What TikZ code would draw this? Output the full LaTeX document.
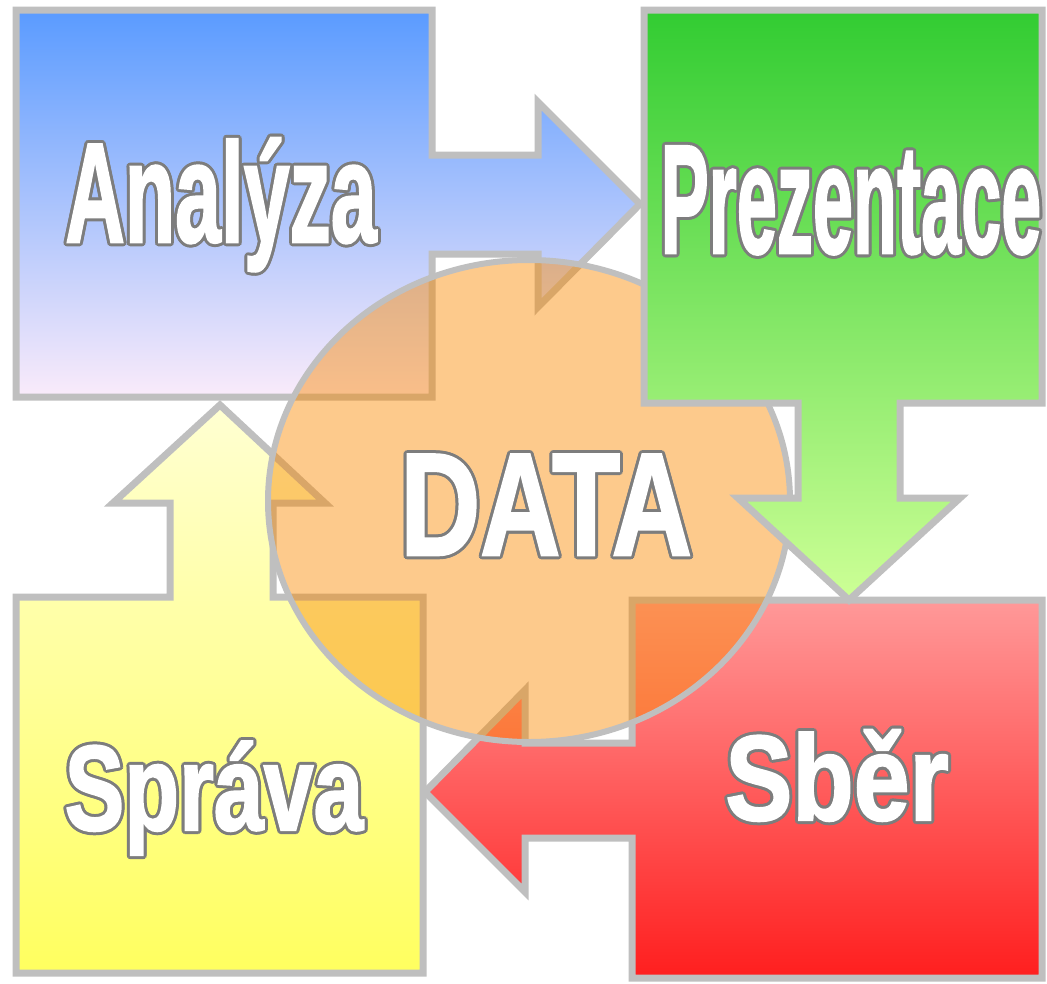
\documentclass[tikz,border=0pt]{standalone}
\usepackage{fontspec}
\usepackage{graphicx}
\newfontface\lblfont{Liberation Sans Bold}[FakeBold=1.8]
\definecolor{bordergray}{RGB}{191,191,191}
\definecolor{olgray}{RGB}{125,125,125}
\definecolor{btop}{RGB}{90,155,255}
\definecolor{bmid}{RGB}{122,186,255}
\definecolor{bbot}{RGB}{250,235,250}
\definecolor{gtop}{RGB}{50,204,50}
\definecolor{gmid}{RGB}{135,228,100}
\definecolor{gbot}{RGB}{205,255,150}
\definecolor{rtop}{RGB}{255,153,153}
\definecolor{rbot}{RGB}{255,30,30}
\definecolor{ytop}{RGB}{255,255,210}
\definecolor{ybot}{RGB}{255,255,95}
\definecolor{ellfill}{RGB}{250,137,0}
\tikzset{
  shapeline/.style={draw=bordergray, line width=7pt, line join=miter},
  lblsty/.style={inner sep=0pt, anchor=base},
}
\newcommand{\olbl}[6]{%
  \foreach \a in {0,30,...,359}{
    \node[lblsty, text=olgray, font={\lblfont\fontsize{#4}{#4}\selectfont}]
      at ([shift={(\a:3pt)}]#2,#3) {\scalebox{#5}[1]{#6}};
  }
  \node[lblsty, text=white, font={\lblfont\fontsize{#4}{#4}\selectfont}]
    (#1) at (#2,#3) {\scalebox{#5}[1]{#6}};
}
\begin{document}
\begin{tikzpicture}[x=1pt,y=-1pt]
\useasboundingbox (0,0) rectangle (1047,983);
% Analyza (blue)
\path[shapeline, top color=btop, middle color=bmid, bottom color=bbot]
  (16,10) -- (432,10) -- (432,155) -- (538,155) -- (538,102) -- (640,204)
  -- (538,307) -- (538,254) -- (432,254) -- (432,397) -- (16,397) -- cycle;
% Sber (red)
\path[shapeline, top color=rtop, bottom color=rbot]
  (632,600) -- (1042,600) -- (1042,978) -- (632,978) -- (632,838) -- (525,838)
  -- (525,892) -- (425,792) -- (525,690) -- (525,743) -- (632,743) -- cycle;
% Sprava (yellow)
\path[shapeline, top color=ytop, bottom color=ybot]
  (16,597) -- (170,597) -- (170,503) -- (113,503) -- (220,405) -- (325,503)
  -- (273,503) -- (273,597) -- (423,597) -- (423,973) -- (16,973) -- cycle;
% DATA ellipse
\path[draw=bordergray, line width=6pt, fill=ellfill, fill opacity=0.45]
  (529,501) ellipse [x radius=261, y radius=241];
% Prezentace (green), drawn over the ellipse
\path[shapeline, top color=gtop, middle color=gmid, bottom color=gbot]
  (644,10) -- (1042,10) -- (1042,403) -- (900,403) -- (900,498) -- (960,498)
  -- (849,600) -- (738,498) -- (798,498) -- (798,403) -- (644,403) -- cycle;
% labels
\olbl{analyza}{221}{242}{142}{0.58}{Analýza}
\olbl{prezentace}{851}{253}{155}{0.465}{Prezentace}
\olbl{data}{546}{555}{146}{0.76}{DATA}
\olbl{sprava}{214}{830}{121}{0.74}{Správa}
\olbl{sber}{837}{820}{121}{0.83}{Sběr}
\end{tikzpicture}
\end{document}
